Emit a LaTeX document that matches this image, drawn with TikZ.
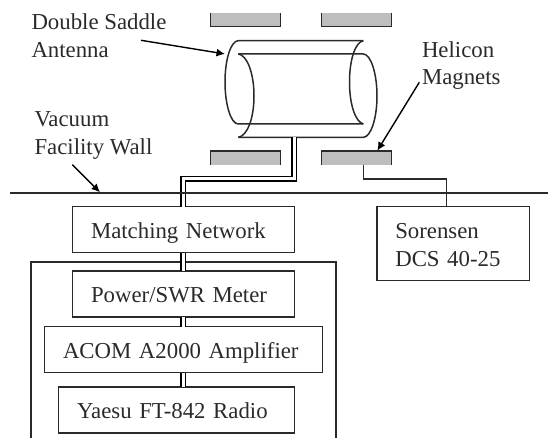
\documentclass[tikz,border=0pt]{standalone}
\usepackage{fontspec}
\setmainfont{Liberation Serif}
\definecolor{ink}{HTML}{2A2A2A}
\definecolor{magnet}{HTML}{BEBEBE}
\usetikzlibrary{arrows.meta}
\tikzset{
  x=1pt,y=-1pt,
  every node/.style={text=ink,font=\fontsize{22.8}{27.7}\selectfont,outer sep=0pt},
  line/.style={draw=ink,line width=1.5pt},
  boxed/.style={inner xsep=18.3pt,inner ysep=0pt,align=left,anchor=north west},
  single/.style={boxed,minimum height=46pt,text height=22pt,text depth=4.8pt},
  label/.style={inner sep=0pt,align=left,anchor=west},
  coax/.style={draw=black,line width=1.5pt,double=white,double distance=2.8pt,line join=miter},
  pointer/.style={draw=black,line width=1.4pt,-{Latex[length=8.5pt,width=8pt]}},
  magnetbar/.style={fill=magnet,draw=none,minimum width=70pt,minimum height=14pt,inner sep=0pt,anchor=north west}
}
\begin{document}
\begin{tikzpicture}
\useasboundingbox (0,0) rectangle (548,438);
\clip (0,0) rectangle (548,438);
% magnets
\node[magnetbar] (mtl) at (210.7,12.7) {};
\node[magnetbar] (mtr) at (321.3,12.7) {};
\node[magnetbar] (mbl) at (210.7,150.9) {};
\node[magnetbar] (mbr) at (321.3,150.9) {};
\foreach \m in {mtl,mtr}
  \draw[line] (\m.north west) -- (\m.south west) -- (\m.south east) -- (\m.north east);
\foreach \m in {mbl,mbr}
  \draw[line] (\m.south west) -- (\m.north west) -- (\m.north east) -- (\m.south east);
% antenna
\coordinate (cylbot) at (294.3,137.3);
\draw[line] (363.3,40.7) -- (238.3,40.7)
  .. controls (231,40.7) and (225,59) .. (225,82)
  .. controls (225,105) and (231,124) .. (238.3,124) -- (363.3,124);
\draw[line] (363.3,40.7) .. controls (355.6,42) and (349.5,59) .. (349.5,82)
  .. controls (349.5,105) and (355.6,122) .. (363.3,124);
\draw[line] (238.3,54) -- (363.3,54)
  .. controls (370.6,54) and (377,73) .. (377,96)
  .. controls (377,119) and (370.6,137.3) .. (363.3,137.3) -- (238.3,137.3);
\draw[line] (238.3,54) .. controls (247,55) and (254,73) .. (254,96)
  .. controls (254,119) and (247,136) .. (238.3,137.3);
% wall
\coordinate (wl) at (10,192.7);
\coordinate (wr) at (548,192.7);
% boxes
\node[single,text width=185pt] (match) at (72.7,206.7) {Matching Network};
\node[single,text width=185pt] (meter) at (72.7,271.2) {Power/SWR Meter};
\node[single,text width=241pt] (amp) at (44.7,326.6) {ACOM A2000 Amplifier};
\node[single,text width=199pt] (radio) at (58.7,386.8) {Yaesu FT-842 Radio};
\node[boxed,text width=116.1pt,minimum height=74pt] (psu) at (377,206.7)
  {\rule{0pt}{26pt}Sorensen\\DCS 40-25\strut};
\coordinate (frameL) at (31,445);
\coordinate (frameTL) at (31,261.8);
\coordinate (frameTR) at (336,261.8);
\coordinate (frameR) at (336,445);
\draw[line] (frameL) -- (frameTL) -- (frameTR) -- (frameR);
\foreach \n in {match,meter,amp,radio,psu} \draw[line] (\n.north west) rectangle (\n.south east);
% coax
\coordinate (bendA) at (294.3,178.8);
\coordinate (bendB) at (183.3,178.8);
\draw[coax] (cylbot) -- (bendA) -- (bendB) -- (bendB |- match.north);
\draw[coax] (bendB |- match.south) -- (bendB |- meter.north);
\draw[coax] (bendB |- meter.south) -- (bendB |- amp.north);
\draw[coax] (bendB |- amp.south) -- (bendB |- radio.north);
% wall over coax
\draw[draw=ink,line width=1.9pt] (wl) -- (wr);
% magnet feed
\coordinate (fa) at (363.3,179);
\draw[draw=ink,line width=1.3pt] (mbr.south -| fa) -- (fa) -- (446.5,179) -- (446.5,206.7);
% labels
\node[label] (lanta) at (31.5,38.3) {\strut Double Saddle\\Antenna\strut};
\node[label] (lmag) at (422,65.6) {\strut Helicon\\Magnets\strut};
\node[label] (lwall) at (34.5,135.3) {\strut Vacuum\\Facility Wall\strut};
\coordinate (a1) at (141,40.3);
\coordinate (a2) at (225,54);
\draw[pointer] (a1) -- (a2);
\coordinate (b1) at (419.3,82.3);
\coordinate (b2) at (377.3,150.7);
\draw[pointer] (b1) -- (b2);
\coordinate (c1) at (72.3,164.7);
\coordinate (c2) at (100,192.3);
\draw[pointer] (c1) -- (c2);
\end{tikzpicture}
\end{document}
